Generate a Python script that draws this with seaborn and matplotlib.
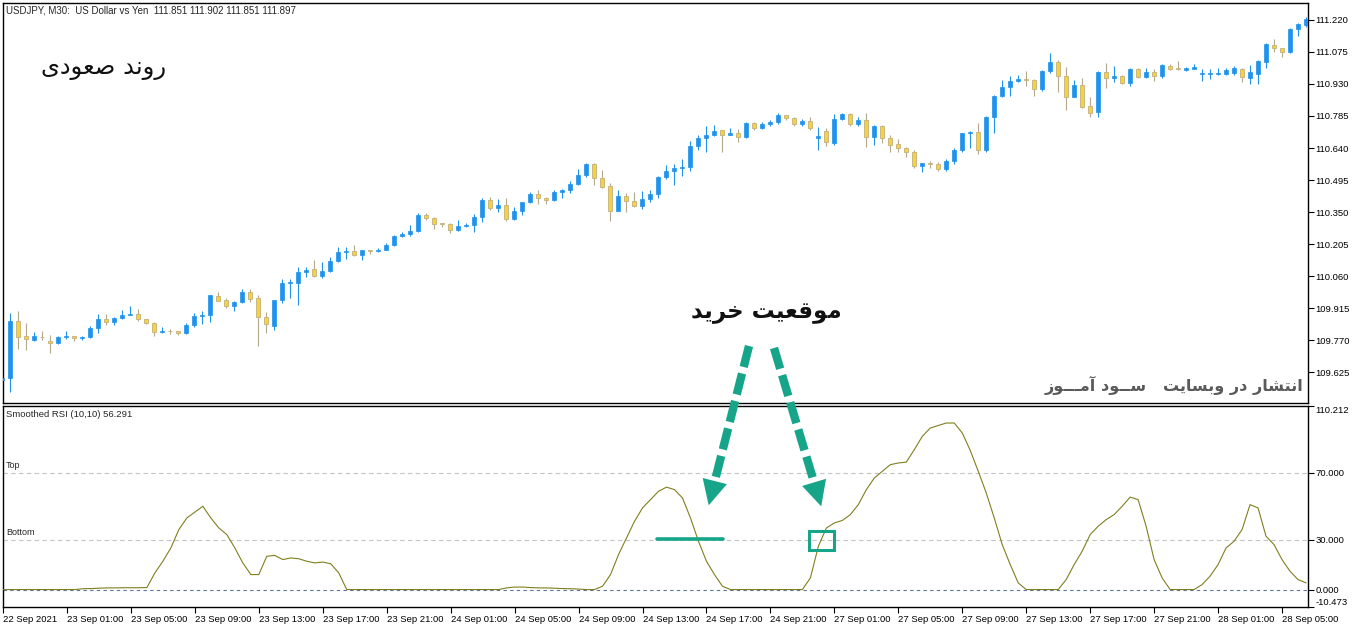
import numpy as np
import pandas as pd
import matplotlib
matplotlib.use("Agg")
import matplotlib.pyplot as plt
import seaborn as sns
from matplotlib.lines import Line2D
from matplotlib.patches import FancyArrowPatch, Rectangle

# ===== USDJPY M30 candles, 22 Sep 21:00 -> 28 Sep 06:30 =====
opens = [
    109.590, 109.598, 109.856, 109.788, 109.770, 109.785, 109.766, 109.757, 109.783, 109.788,
    109.778, 109.783, 109.824, 109.865, 109.851, 109.870, 109.883, 109.888, 109.865, 109.847,
    109.806, 109.811, 109.811, 109.802, 109.838, 109.879, 109.883, 109.970, 109.952, 109.924,
    109.943, 109.988, 109.961, 109.875, 109.834, 109.952, 110.028, 110.028, 110.078, 110.092,
    110.060, 110.083, 110.128, 110.169, 110.173, 110.155, 110.178, 110.175, 110.180, 110.201,
    110.241, 110.250, 110.264, 110.336, 110.323, 110.298, 110.296, 110.268, 110.287, 110.291,
    110.327, 110.405, 110.368, 110.382, 110.318, 110.355, 110.395, 110.432, 110.414, 110.405,
    110.441, 110.450, 110.477, 110.518, 110.568, 110.505, 110.468, 110.355, 110.423, 110.400,
    110.377, 110.409, 110.432, 110.509, 110.536, 110.550, 110.554, 110.650, 110.686, 110.699,
    110.720, 110.700, 110.708, 110.690, 110.753, 110.731, 110.749, 110.756, 110.790, 110.778,
    110.749, 110.762, 110.686, 110.717, 110.663, 110.773, 110.796, 110.749, 110.768, 110.690,
    110.740, 110.686, 110.658, 110.640, 110.622, 110.559, 110.570, 110.568, 110.545, 110.580,
    110.630, 110.708, 110.712, 110.630, 110.780, 110.876, 110.917, 110.944, 110.953, 110.948,
    110.908, 110.990, 111.030, 110.966, 110.870, 110.926, 110.830, 110.803, 110.984, 110.958,
    110.966, 110.935, 110.998, 110.962, 110.984, 110.966, 111.012, 111.002, 110.994, 111.000,
    110.975, 110.975, 110.975, 110.975, 110.980, 111.000, 110.958, 110.975, 111.030, 111.107,
    111.093, 111.075, 111.180, 111.197,
]
highs = [
    109.610, 109.892, 109.901, 109.847, 109.806, 109.811, 109.793, 109.788, 109.811, 109.790,
    109.790, 109.833, 109.888, 109.888, 109.874, 109.906, 109.924, 109.911, 109.865, 109.851,
    109.829, 109.820, 109.811, 109.847, 109.892, 109.901, 109.976, 109.988, 109.961, 109.947,
    110.001, 110.001, 109.974, 109.897, 109.952, 110.047, 110.047, 110.101, 110.101, 110.132,
    110.123, 110.146, 110.190, 110.192, 110.201, 110.178, 110.180, 110.187, 110.210, 110.246,
    110.260, 110.291, 110.345, 110.345, 110.327, 110.298, 110.298, 110.314, 110.300, 110.341,
    110.414, 110.418, 110.409, 110.414, 110.373, 110.395, 110.441, 110.450, 110.420, 110.450,
    110.455, 110.491, 110.545, 110.572, 110.572, 110.541, 110.482, 110.450, 110.436, 110.441,
    110.445, 110.450, 110.514, 110.563, 110.568, 110.590, 110.672, 110.699, 110.740, 110.744,
    110.720, 110.730, 110.727, 110.760, 110.760, 110.760, 110.765, 110.800, 110.790, 110.780,
    110.770, 110.780, 110.735, 110.731, 110.794, 110.800, 110.800, 110.780, 110.800, 110.744,
    110.744, 110.700, 110.680, 110.645, 110.630, 110.570, 110.580, 110.578, 110.590, 110.640,
    110.710, 110.717, 110.753, 110.785, 110.880, 110.950, 110.966, 110.970, 110.990, 110.953,
    110.994, 111.070, 111.040, 111.007, 110.950, 110.957, 110.870, 110.989, 111.025, 111.010,
    110.970, 111.003, 111.003, 111.003, 110.998, 111.021, 111.021, 111.035, 111.007, 111.021,
    110.998, 110.998, 111.003, 111.003, 111.012, 111.003, 111.016, 111.039, 111.116, 111.134,
    111.093, 111.184, 111.206, 111.234,
]
lows = [
    109.575, 109.534, 109.729, 109.725, 109.766, 109.770, 109.711, 109.752, 109.775, 109.766,
    109.770, 109.779, 109.802, 109.838, 109.838, 109.865, 109.883, 109.856, 109.842, 109.788,
    109.802, 109.797, 109.793, 109.797, 109.829, 109.843, 109.851, 109.947, 109.915, 109.901,
    109.938, 109.943, 109.743, 109.802, 109.815, 109.938, 109.961, 109.929, 110.056, 110.056,
    110.051, 110.078, 110.123, 110.137, 110.151, 110.132, 110.160, 110.171, 110.178, 110.196,
    110.237, 110.241, 110.259, 110.314, 110.273, 110.280, 110.255, 110.264, 110.280, 110.259,
    110.305, 110.359, 110.350, 110.309, 110.314, 110.337, 110.390, 110.386, 110.386, 110.400,
    110.414, 110.436, 110.473, 110.509, 110.473, 110.459, 110.309, 110.355, 110.350, 110.373,
    110.364, 110.395, 110.414, 110.500, 110.473, 110.514, 110.536, 110.631, 110.620, 110.695,
    110.620, 110.700, 110.667, 110.685, 110.720, 110.727, 110.740, 110.750, 110.765, 110.740,
    110.740, 110.720, 110.630, 110.650, 110.654, 110.765, 110.740, 110.740, 110.645, 110.654,
    110.663, 110.620, 110.620, 110.600, 110.550, 110.530, 110.550, 110.535, 110.535, 110.568,
    110.620, 110.640, 110.612, 110.620, 110.708, 110.870, 110.876, 110.940, 110.920, 110.876,
    110.900, 110.980, 110.894, 110.810, 110.870, 110.820, 110.780, 110.780, 110.912, 110.939,
    110.930, 110.920, 110.955, 110.957, 110.944, 110.957, 110.994, 110.994, 110.990, 110.998,
    110.944, 110.953, 110.971, 110.971, 110.971, 110.939, 110.930, 110.930, 111.003, 111.075,
    111.052, 111.070, 111.148, 111.190,
]
closes = [
    109.598, 109.856, 109.783, 109.775, 109.788, 109.782, 109.757, 109.783, 109.790, 109.780,
    109.785, 109.824, 109.865, 109.851, 109.870, 109.883, 109.888, 109.865, 109.847, 109.806,
    109.811, 109.809, 109.802, 109.838, 109.879, 109.883, 109.974, 109.947, 109.924, 109.943,
    109.988, 109.956, 109.875, 109.843, 109.952, 110.028, 110.032, 110.078, 110.087, 110.060,
    110.083, 110.128, 110.169, 110.173, 110.155, 110.178, 110.175, 110.180, 110.201, 110.241,
    110.250, 110.264, 110.336, 110.323, 110.296, 110.296, 110.268, 110.287, 110.291, 110.327,
    110.405, 110.368, 110.382, 110.318, 110.355, 110.395, 110.432, 110.414, 110.405, 110.441,
    110.450, 110.477, 110.518, 110.568, 110.505, 110.464, 110.355, 110.423, 110.400, 110.377,
    110.409, 110.432, 110.509, 110.536, 110.550, 110.554, 110.650, 110.686, 110.699, 110.717,
    110.700, 110.708, 110.690, 110.753, 110.731, 110.749, 110.756, 110.790, 110.778, 110.749,
    110.762, 110.731, 110.695, 110.667, 110.773, 110.796, 110.749, 110.768, 110.690, 110.740,
    110.686, 110.654, 110.640, 110.622, 110.559, 110.570, 110.568, 110.545, 110.580, 110.630,
    110.708, 110.712, 110.630, 110.780, 110.876, 110.917, 110.944, 110.953, 110.948, 110.908,
    110.990, 111.030, 110.966, 110.870, 110.926, 110.826, 110.800, 110.984, 110.958, 110.966,
    110.935, 110.998, 110.962, 110.984, 110.966, 111.016, 111.000, 111.000, 111.002, 111.007,
    110.980, 110.980, 110.980, 110.994, 111.003, 110.962, 110.984, 111.035, 111.112, 111.093,
    111.075, 111.180, 111.200, 111.225,
]

# ===== Smoothed RSI (10,10) =====
rsi = [
    0, 0, 0, 0, 0, 0, 0, 0, 0, 0,
    0.5, 0.6, 0.8, 1.0, 1.0, 1.1, 1.1, 1.1, 1.2,
    10, 17, 25, 36, 43, 46.5, 50, 43, 37, 33, 25, 16, 9, 9, 20, 20.5, 18, 19, 18.5, 17,
    16, 16.5, 15.5, 10, 0,
    0, 0, 0, 0, 0, 0, 0, 0, 0, 0, 0, 0, 0, 0, 0, 0, 0, 0, 0,
    1.0, 1.5, 1.5, 1.2, 1.0, 1.0, 0.8, 0.6, 0.5, 0.3, 0, 0,
    2, 9, 21, 31, 41, 49, 54, 59, 61.5, 60, 55, 43, 29, 17, 9, 2, 0,
    0, 0, 0, 0, 0, 0, 0, 0, 0,
    7, 26, 37, 40, 41.5, 45, 51, 60, 67, 71, 75, 76, 76.5, 84, 92, 97, 98.5, 100, 100,
    94, 83.5, 71, 58, 43, 27, 15, 4, 0,
    0, 0, 0, 0,
    6, 15, 23, 33, 38, 42, 45, 50, 55.5, 54, 38, 18, 7, 0,
    0, 0, 0,
    3, 8, 15, 25, 29, 36, 51, 49, 32, 27, 18, 11, 6, 4,
]

time_labels = [
    "22 Sep 2021", "23 Sep 01:00", "23 Sep 05:00", "23 Sep 09:00", "23 Sep 13:00",
    "23 Sep 17:00", "23 Sep 21:00", "24 Sep 01:00", "24 Sep 05:00", "24 Sep 09:00",
    "24 Sep 13:00", "24 Sep 17:00", "24 Sep 21:00", "27 Sep 01:00", "27 Sep 05:00",
    "27 Sep 09:00", "27 Sep 13:00", "27 Sep 17:00", "27 Sep 21:00", "28 Sep 01:00",
    "28 Sep 05:00",
]
price_ticks = [109.625, 109.770, 109.915, 110.060, 110.205, 110.350, 110.495,
               110.640, 110.785, 110.930, 111.075, 111.220]
rsi_ticks = [-10.473, 0.0, 30.0, 70.0, 110.212]

header = "USDJPY, M30:  US Dollar vs Yen  111.851 111.902 111.851 111.897"
rsi_header = "Smoothed RSI (10,10) 56.291"
trend_text = "روند صعودی"
buy_text = "موقعیت خرید"
site_text = "انتشار در وبسایت   ســود آمـــوز"

# ---- minimal Persian shaping (matplotlib has no RTL / joining) ----
FORMS = {
    "\u0627": ("\uFE8D", "\uFE8E", None, None),
    "\u0622": ("\uFE81", "\uFE82", None, None),
    "\u0628": ("\uFE8F", "\uFE90", "\uFE91", "\uFE92"),
    "\u062A": ("\uFE95", "\uFE96", "\uFE97", "\uFE98"),
    "\u062E": ("\uFEA5", "\uFEA6", "\uFEA7", "\uFEA8"),
    "\u062F": ("\uFEA9", "\uFEAA", None, None),
    "\u0631": ("\uFEAD", "\uFEAE", None, None),
    "\u0632": ("\uFEAF", "\uFEB0", None, None),
    "\u0633": ("\uFEB1", "\uFEB2", "\uFEB3", "\uFEB4"),
    "\u0634": ("\uFEB5", "\uFEB6", "\uFEB7", "\uFEB8"),
    "\u0635": ("\uFEB9", "\uFEBA", "\uFEBB", "\uFEBC"),
    "\u0639": ("\uFEC9", "\uFECA", "\uFECB", "\uFECC"),
    "\u0642": ("\uFED5", "\uFED6", "\uFED7", "\uFED8"),
    "\u0645": ("\uFEE1", "\uFEE2", "\uFEE3", "\uFEE4"),
    "\u0646": ("\uFEE5", "\uFEE6", "\uFEE7", "\uFEE8"),
    "\u0648": ("\uFEED", "\uFEEE", None, None),
    "\u06CC": ("\uFBFC", "\uFBFD", "\uFBFE", "\uFBFF"),
    "\u064A": ("\uFEF1", "\uFEF2", "\uFEF3", "\uFEF4"),
}
TATWEEL = "\u0640"


def joins_next(c):
    return c == TATWEEL or (c in FORMS and FORMS[c][2] is not None)


def joins_prev(c):
    return c == TATWEEL or c in FORMS


def shape(text):
    out = []
    for i, c in enumerate(text):
        if c not in FORMS:
            out.append(c)
            continue
        prev = text[i - 1] if i > 0 else ""
        nxt = text[i + 1] if i + 1 < len(text) else ""
        p = bool(prev) and joins_next(prev)
        n = joins_next(c) and bool(nxt) and joins_prev(nxt)
        iso, fin, ini, med = FORMS[c]
        out.append(med if p and n else fin if p else ini if n else iso)
    return "".join(reversed(out))


df = pd.DataFrame({"open": opens, "high": highs, "low": lows, "close": closes, "rsi": rsi})
df["bar"] = np.arange(len(df))
df["bull"] = df["close"] >= df["open"]

sns.set_style("white")
plt.rcParams["font.family"] = ["Liberation Sans", "DejaVu Sans"]

W, H = 1362, 628
fig = plt.figure(figsize=(W / 100, H / 100), dpi=100)
ax1 = fig.add_axes([3 / W, (H - 403) / H, 1305 / W, 400 / H])
ax2 = fig.add_axes([3 / W, (H - 607) / H, 1305 / W, 201 / H])

BULL = "#1f92ec"
BEAR = "#f5d33f"
BEAR_EDGE = "#c4b07c"

# ---- candles ----
up = df[df["bull"]]
dn = df[~df["bull"]]
ax1.vlines(up["bar"], up["low"], up["high"], color=BULL, lw=0.8, zorder=2)
ax1.vlines(dn["bar"], dn["low"], dn["high"], color="#b5a98c", lw=0.8, zorder=2)
body_up = np.maximum(up["close"] - up["open"], 0.0015)
body_dn = np.maximum(dn["open"] - dn["close"], 0.0015)
ax1.bar(up["bar"], body_up, bottom=up["open"], width=0.62, color=BULL,
        edgecolor=BULL, linewidth=0.5, zorder=3)
ax1.bar(dn["bar"], body_dn, bottom=dn["close"], width=0.62, color=BEAR,
        edgecolor=BEAR_EDGE, linewidth=0.6, zorder=3)

ax1.set_xlim(0.125, 163.25)
ax1.set_ylim(109.4846, 111.297)
ax1.yaxis.tick_right()
ax1.set_yticks(price_ticks)
ax1.set_yticklabels([f"{v:.3f}" for v in price_ticks])
ax1.set_xticks([])
ax1.tick_params(axis="y", direction="out", length=4, width=0.8, pad=1.5,
                labelsize=6.8, colors="black", right=True)

# ---- RSI ----
for lvl in (70, 30):
    ax2.axhline(lvl, color="#c4c4c4", lw=0.8, ls=(0, (4, 3)), zorder=1)
ax2.axhline(0, color="#5b7597", lw=0.8, ls=(0, (3, 3)), zorder=1)
sns.lineplot(data=df, x="bar", y="rsi", ax=ax2, color="#7f7f20", lw=0.8, zorder=3)
ax2.set_xlim(0.125, 163.25)
ax2.set_ylim(-10.473, 110.212)
ax2.set_xlabel("")
ax2.set_ylabel("")
ax2.yaxis.tick_right()
ax2.set_yticks(rsi_ticks)
ax2.set_yticklabels([f"{v:.3f}" for v in rsi_ticks])
ylabs = ax2.get_yticklabels()
ylabs[0].set_va("bottom")
ylabs[-1].set_va("top")
ax2.tick_params(axis="y", direction="out", length=4, width=0.8, pad=1.5,
                labelsize=6.8, colors="black", right=True)
ax2.set_xticks(np.arange(0, 161, 8))
ax2.set_xticklabels(time_labels, ha="left")
ax2.tick_params(axis="x", direction="out", length=4, width=0.8, pad=1.5,
                labelsize=6.8, colors="black", bottom=True)

for ax in (ax1, ax2):
    for sp in ax.spines.values():
        sp.set_visible(True)
        sp.set_color("black")
        sp.set_linewidth(1.0)

ax2.annotate("Top", xy=(0, 70), xycoords=("axes fraction", "data"), xytext=(2, 2),
             textcoords="offset points", fontsize=6.5, va="bottom", ha="left")
ax2.annotate("Bottom", xy=(0, 30), xycoords=("axes fraction", "data"), xytext=(2, 2),
             textcoords="offset points", fontsize=6.5, va="bottom", ha="left")
ax2.annotate(rsi_header, xy=(0, 1), xycoords="axes fraction", xytext=(2, -3),
             textcoords="offset points", fontsize=6.8, va="top", ha="left")
ax1.annotate(header, xy=(0, 1), xycoords="axes fraction", xytext=(2, -2),
             textcoords="offset points", fontsize=7, va="top", ha="left")

# ---- Persian annotations ----
def fx(x):
    return x / W


def fy(y):
    return 1 - y / H


fig.text(fx(104), fy(68), shape(trend_text), family=["DejaVu Sans"], fontsize=17.5,
         ha="center", va="center", color="#111111")
fig.text(fx(766), fy(312), shape(buy_text), family=["DejaVu Sans"], fontsize=16.5,
         fontweight="bold", ha="center", va="center", color="#111111")
fig.text(fx(1303), fy(385), shape(site_text), family=["DejaVu Sans"], fontsize=11.5,
         fontweight="bold", ha="right", va="center", color="#5a5a5a")

TEAL = "#17a589"
for (x0, y0), (x1, y1) in [((749, 346), (708, 508)), ((774, 348), (822, 509))]:
    d = np.hypot(x1 - x0, y1 - y0)
    ux, uy = (x1 - x0) / d, (y1 - y0) / d
    bx, by = x1 - ux * 22, y1 - uy * 22
    fig.add_artist(Line2D([fx(x0), fx(bx)], [fy(y0), fy(by)], color=TEAL, lw=6,
                          dashes=(2.6, 0.8), solid_capstyle="butt",
                          dash_capstyle="butt", transform=fig.transFigure))
    fig.add_artist(FancyArrowPatch((fx(bx - ux * 4), fy(by - uy * 4)), (fx(x1), fy(y1)),
                                   arrowstyle="-|>,head_length=0.9,head_width=0.45",
                                   mutation_scale=20, lw=0, color=TEAL,
                                   transform=fig.transFigure))

fig.add_artist(Line2D([fx(657), fx(723)], [fy(539), fy(539)], color=TEAL, lw=2.6,
                      transform=fig.transFigure))
fig.add_artist(Rectangle((fx(809), fy(550)), (834 - 809) / W, (550 - 531) / H,
                         fill=False, edgecolor=TEAL, lw=2.2, transform=fig.transFigure))

fig.savefig("out.png", dpi=100, facecolor="white")
